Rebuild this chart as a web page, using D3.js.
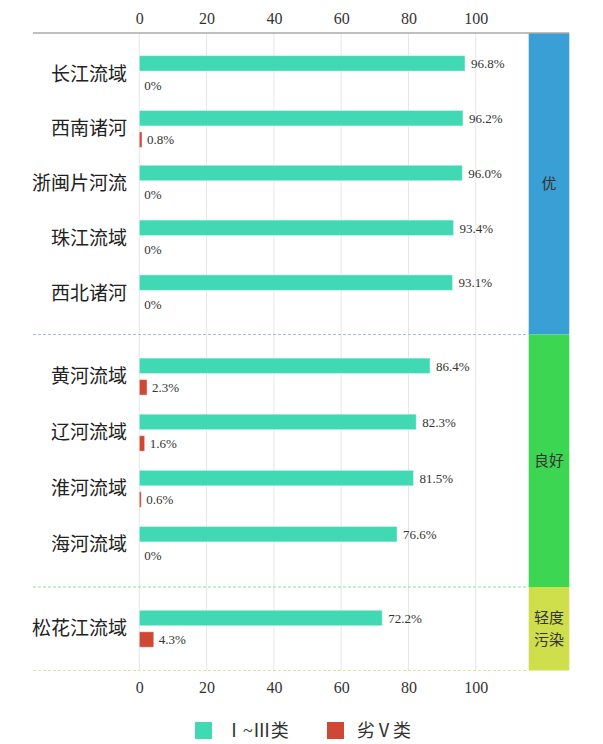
<!DOCTYPE html>
<html><head><meta charset="utf-8">
<script src="https://cdn.jsdelivr.net/npm/d3@7"></script>
<style>
html,body{margin:0;padding:0;background:#fff;}
svg{display:block;}
</style></head>
<body>
<script>
const categories = ['长江流域','西南诸河','浙闽片河流','珠江流域','西北诸河','黄河流域','辽河流域','淮河流域','海河流域','松花江流域'];
const goodValues = [96.8,96.2,96.0,93.4,93.1,86.4,82.3,81.5,76.6,72.2];
const badValues = [0,0.8,0,0,0,2.3,1.6,0.6,0,4.3];
const groupNames = ['优','良好','轻度污染'];
const groupLabelLines = [['优'],['良好'],['轻度','污染']];
const groupSizes = [5,4,1];
const tickValues = [0,20,40,60,80,100];
const seriesNames = ['Ⅰ~Ⅲ类','劣Ⅴ类'];

const W=603,H=744;
const serif = '"Liberation Serif","Times New Roman",serif';
const cjk = '"Liberation Serif","Noto Sans CJK SC",serif';
const colGood='#40d9b4', colBad='#cf4835';
const groupColors=['#3a9fd4','#3cd653','#cfdf4c'];
const dashColors=['#93c6e0','#8fdf98','#dfe98c'];

const svg=d3.select('body').append('svg').attr('width',W).attr('height',H);
const x=d3.scaleLinear().domain([0,100]).range([139.3,475.8]);
const left=33, bandX0=528.7, bandX1=569.3;
const bounds=[33,334.5,587,670.5];

// gridlines
svg.append('g').selectAll('line').data(tickValues).join('line')
  .attr('x1',d=>x(d)).attr('x2',d=>x(d)).attr('y1',bounds[0]).attr('y2',bounds[3])
  .attr('stroke','#e6e6e6').attr('stroke-width',1);

// group bands
groupNames.forEach((g,i)=>{
  svg.append('rect').attr('x',bandX0).attr('y',bounds[i]).attr('width',bandX1-bandX0)
    .attr('height',bounds[i+1]-bounds[i]).attr('fill',groupColors[i]);
  const lines=groupLabelLines[i];
  const cy=(bounds[i]+bounds[i+1])/2;
  lines.forEach((t,j)=>{
    svg.append('text').attr('x',(bandX0+bandX1)/2).attr('y',cy+(j-(lines.length-1)/2)*22)
      .attr('text-anchor','middle').attr('dominant-baseline','central')
      .attr('font-family',cjk).attr('font-size',15).attr('fill','#333').text(t);
  });
  svg.append('line').attr('x1',left).attr('x2',bandX0).attr('y1',bounds[i+1]).attr('y2',bounds[i+1])
    .attr('stroke',dashColors[i]).attr('stroke-width',1.2).attr('stroke-dasharray','3,2');
});
// top line
svg.append('line').attr('x1',left).attr('x2',bandX1).attr('y1',33).attr('y2',33)
  .attr('stroke','#aaaaaa').attr('stroke-width',1.5);

// rows
let idx=0;
const rows=[];
groupSizes.forEach((n,gi)=>{
  const names=categories.slice(idx,idx+n);
  const yb=d3.scaleBand().domain(names).range([bounds[gi],bounds[gi+1]]).paddingInner(0).paddingOuter(0.25);
  names.forEach((c,k)=>{
    rows.push({cat:c,good:goodValues[idx+k],bad:badValues[idx+k],cy:yb(c)+yb.bandwidth()/2});
  });
  idx+=n;
});

const g=svg.append('g');
rows.forEach(r=>{
  g.append('rect').attr('x',x(0)).attr('y',r.cy-18.5).attr('width',x(r.good)-x(0)).attr('height',15.5)
    .attr('fill',colGood).attr('stroke','rgba(255,255,255,0.45)').attr('stroke-width',1);
  if(r.bad>0){
    g.append('rect').attr('x',x(0)).attr('y',r.cy+3).attr('width',x(r.bad)-x(0)).attr('height',15.5)
      .attr('fill',colBad).attr('stroke','rgba(255,255,255,0.45)').attr('stroke-width',1);
  }
  g.append('text').attr('x',x(r.good)+6).attr('y',r.cy-10.5).attr('dominant-baseline','central')
    .attr('font-family',serif).attr('font-size',13).attr('fill','#333').text(r.good.toFixed(1)+'%');
  g.append('text').attr('x',x(r.bad)+5).attr('y',r.cy+11).attr('dominant-baseline','central')
    .attr('font-family',serif).attr('font-size',13).attr('fill','#333').text(r.bad===0?'0%':r.bad.toFixed(1)+'%');
  g.append('text').attr('x',127).attr('y',r.cy).attr('text-anchor','end').attr('dominant-baseline','central')
    .attr('font-family',cjk).attr('font-size',19).attr('fill','#222').text(r.cat);
});

// axes
const axTop=d3.axisTop(x).tickValues(tickValues).tickSize(0).tickPadding(0);
const gt=svg.append('g').attr('transform','translate(0,24)').call(axTop);
const gb=svg.append('g').attr('transform','translate(0,682)').call(d3.axisBottom(x).tickValues(tickValues).tickSize(0).tickPadding(0));
[gt,gb].forEach(a=>{
  a.select('.domain').remove();
  a.selectAll('text').attr('font-family',serif).attr('font-size',16).attr('fill','#333');
});

// legend
const leg=[{x:195,c:colGood,t:seriesNames[0]},{x:327,c:colBad,t:seriesNames[1]}];
leg.forEach(l=>{
  svg.append('rect').attr('x',l.x).attr('y',722).attr('width',17).attr('height',17).attr('fill',l.c);
  svg.append('text').attr('x',l.x+30).attr('y',730.5).attr('dominant-baseline','central')
    .attr('font-family',cjk).attr('font-size',18).attr('fill','#333').text(l.t);
});
</script>
</body></html>
